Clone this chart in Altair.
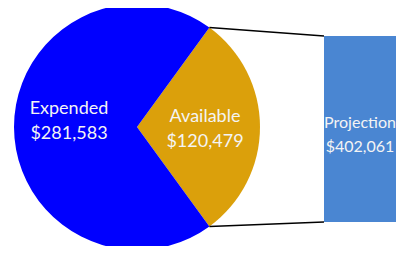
import math
import altair as alt
import pandas as pd

# ---- data ----
labels = ["Available", "Expended"]
amounts = [120479, 281583]
projection_label = "Projection"
projection_amount = 402061

# ---- layout ----
W, H = 388, 238
cx, cy, R = 129, 119, 123
rect_x, rect_x2, rect_y, rect_y2 = 316, 400, 28, 214
label_r = 68
label_dy = {"Available": -10, "Expended": -18}
FONT = "Lato"
FS = 18
LH = 25
TXT = "#F4F4F4"

total = sum(amounts)
a0 = math.pi / 2 - math.pi * amounts[0] / total
a1 = a0 + 2 * math.pi * amounts[0] / total

fmt = lambda v: "${:,}".format(v)
pie_df = pd.DataFrame({"label": labels, "amount": amounts, "order": [0, 1]})
pie_df["text"] = pie_df["label"] + "\n" + pie_df["amount"].map(fmt)
# label positions from mid-angles of the slices
cum = pie_df["amount"].cumsum() - pie_df["amount"] / 2
mid = a0 + 2 * math.pi * cum / total
pie_df["lx"] = cx + label_r * mid.map(math.sin)
pie_df["ly"] = cy - label_r * mid.map(math.cos) + pie_df["label"].map(label_dy)

proj_df = pd.DataFrame({"text": [projection_label + "\n" + fmt(projection_amount)]})

conn_df = pd.DataFrame({
    "x": [cx + R * math.sin(a0), cx + R * math.sin(a1)],
    "y": [cy - R * math.cos(a0), cy - R * math.cos(a1)],
    "x2": [rect_x, rect_x],
    "y2": [rect_y, rect_y2],
})

pie = alt.Chart(pie_df).mark_arc(radius=R).encode(
    theta=alt.Theta("amount:Q", stack=True, scale=alt.Scale(range=[a0, a0 + 2 * math.pi])),
    order=alt.Order("order:Q"),
    x=alt.value(cx), y=alt.value(cy),
    color=alt.Color("label:N", scale=alt.Scale(domain=labels, range=["#DBA00B", "#0000FF"]), legend=None),
)

labs = alt.Chart(pie_df).mark_text(lineBreak="\n", font=FONT, fontSize=FS, color=TXT,
                                   lineHeight=LH, baseline="middle").encode(
    x=alt.X("lx:Q", scale=None), y=alt.Y("ly:Q", scale=None), text="text:N")

rect = alt.Chart(proj_df).mark_rect(color="#4A86D2").encode(
    x=alt.value(rect_x), x2=alt.value(rect_x2), y=alt.value(rect_y), y2=alt.value(rect_y2)
)
proj_txt = alt.Chart(proj_df).mark_text(lineBreak="\n", font=FONT, fontSize=16, color=TXT,
                                        lineHeight=24, baseline="middle").encode(
    x=alt.value(352), y=alt.value(115), text="text:N")

conn = alt.Chart(conn_df).mark_rule(color="black", strokeWidth=1.6).encode(
    x=alt.X("x:Q", scale=None), y=alt.Y("y:Q", scale=None),
    x2="x2:Q", y2="y2:Q"
)

chart = alt.layer(pie, conn, rect, labs, proj_txt).properties(
    width=W, height=H, autosize=alt.AutoSizeParams(type="none"), padding=0
).configure_view(stroke=None)

chart.save("out.html", embed_options={"renderer": "svg", "actions": False})
